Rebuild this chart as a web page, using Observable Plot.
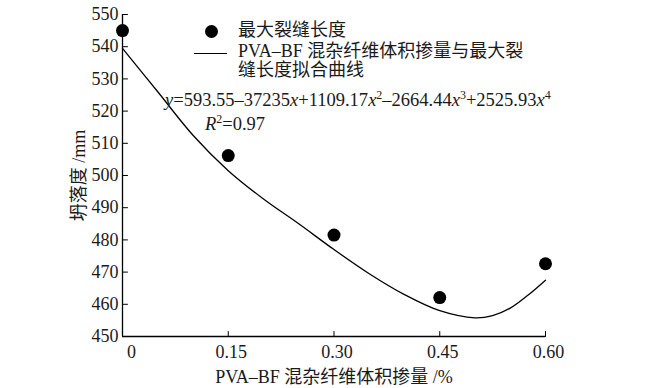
<!DOCTYPE html>
<html>
<head>
<meta charset="utf-8">
<script src="https://cdn.jsdelivr.net/npm/d3@7"></script>
<script src="https://cdn.jsdelivr.net/npm/@observablehq/plot@0.6"></script>
<style>
  html, body { margin: 0; padding: 0; background: #fff; }
  #chart { position: relative; width: 670px; height: 388px; font-family: "Liberation Serif", "Noto Sans CJK SC", serif; color: #1a1a1a; }
  #chart svg { position: absolute; left: 0; top: 0; }
  .ov { position: absolute; white-space: nowrap; font-size: 18px; line-height: 19px; }
  .eq { font-size: 18.5px; }
  .ov sup { font-size: 12px; vertical-align: 7px; line-height: 0; }
</style>
</head>
<body>
<div id="chart">
  <div class="ov" style="left:205px;top:25px;width:13px;height:13px;border-radius:50%;background:#000;"></div>
  <div class="ov" style="left:238px;top:21px;">最大裂缝长度</div>
  <div class="ov" style="left:194px;top:53px;width:33px;height:0;border-top:1.3px solid #000;"></div>
  <div class="ov" style="left:238px;top:42px;">PVA–BF 混杂纤维体积掺量与最大裂<br>缝长度拟合曲线</div>
  <div class="ov eq" style="left:165px;top:91px;"><i>y</i>=593.55–37235<i>x</i>+1109.17<i>x</i><sup>2</sup>–2664.44<i>x</i><sup>3</sup>+2525.93<i>x</i><sup>4</sup></div>
  <div class="ov eq" style="left:205px;top:115px;"><i>R</i><sup>2</sup>=0.97</div>
</div>
<script>
// Measured points (fiber volume fraction %, slump mm)
const doses = [0, 0.15, 0.30, 0.45, 0.60];
const slumps = [545, 506.2, 481.5, 462.1, 472.6];
// Fitted curve
const fitX = [0, 0.05, 0.10, 0.15, 0.20, 0.25, 0.30, 0.35, 0.40, 0.45, 0.50, 0.525, 0.55, 0.575, 0.60];
const fitY = [539.5, 526, 512.5, 501.5, 492.7, 485, 477, 469.5, 463, 458, 455.8, 456.5, 458.8, 462.8, 467.5];
const xTicks = [0, 0.15, 0.30, 0.45, 0.60];
const xTickLabels = ["0", "0.15", "0.30", "0.45", "0.60"];
const yTicks = [450, 460, 470, 480, 490, 500, 510, 520, 530, 540, 550];
const xTitle = "PVA–BF 混杂纤维体积掺量 /%";
const yTitle = "坍落度 /mm";

const points = doses.map((d, i) => ({x: d, y: slumps[i]}));
const fit = fitX.map((d, i) => ({x: d, y: fitY[i]}));
const tickShape = {draw(context, l) { context.moveTo(0, 0); context.lineTo(0, -l); }};
const fmtX = d => xTickLabels[xTicks.indexOf(d)];

const chart = Plot.plot({
  width: 670,
  height: 388,
  marginLeft: 122,
  marginRight: 125,
  marginTop: 14,
  marginBottom: 52,
  style: {fontFamily: '"Liberation Serif", "Noto Sans CJK SC", serif', fontSize: "18px", color: "#1a1a1a", background: "transparent"},
  x: {domain: [0, 0.6]},
  y: {domain: [450, 550]},
  marks: [
    Plot.ruleX([0], {stroke: "#000", strokeWidth: 1.3}),
    Plot.ruleY([450], {stroke: "#000", strokeWidth: 1.3}),
    Plot.vector(yTicks, {x: 0, y: d => d, length: 5, rotate: 90, anchor: "start", shape: tickShape, stroke: "#000", strokeWidth: 1}),
    Plot.vector(xTicks.slice(1), {x: d => d, y: 450, length: 5, rotate: 0, anchor: "start", shape: tickShape, stroke: "#000", strokeWidth: 1}),
    Plot.axisY({ticks: yTicks, tickSize: 0, tickPadding: 4, tickFormat: d => String(d), label: yTitle, labelAnchor: "center", labelOffset: 50, labelArrow: "none", fontSize: 18}),
    Plot.axisX({ticks: [0], tickSize: 0, tickPadding: 9, dx: 9, tickFormat: fmtX, label: null, fontSize: 18}),
    Plot.axisX({ticks: xTicks.slice(1), tickSize: 0, tickPadding: 9, dx: 3, tickFormat: fmtX, label: xTitle, labelAnchor: "center", labelOffset: 46, labelArrow: "none", fontSize: 18}),
    Plot.line(fit, {x: "x", y: "y", curve: "catmull-rom", stroke: "#000", strokeWidth: 1.3}),
    Plot.dot(points, {x: "x", y: "y", r: 6.5, fill: "#000", stroke: "none"})
  ]
});
document.getElementById("chart").prepend(chart);
</script>
</body>
</html>
